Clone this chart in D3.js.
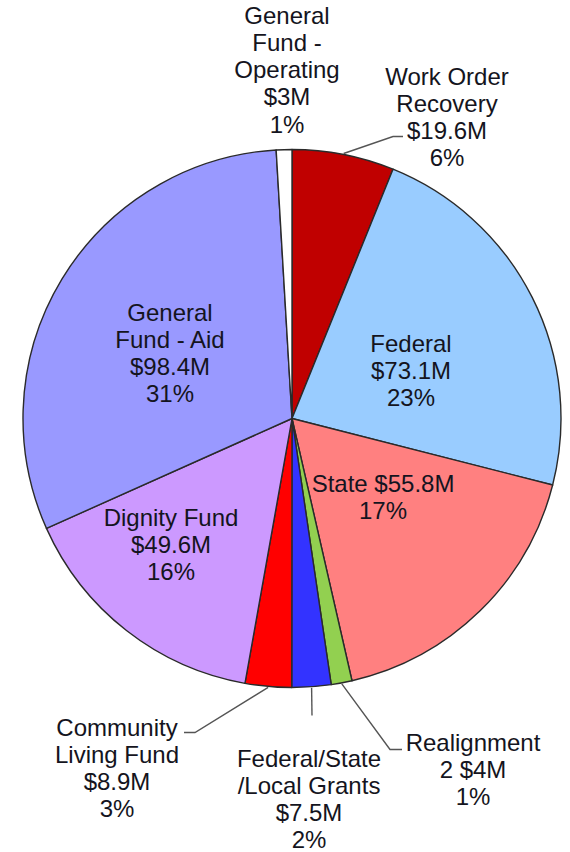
<!DOCTYPE html>
<html>
<head>
<meta charset="utf-8">
<script src="https://cdn.jsdelivr.net/npm/d3@7"></script>
<style>
  html, body { margin: 0; padding: 0; background: #fff; }
  svg { display: block; }
  text { font-family: "Liberation Sans", Arial, sans-serif; font-size: 24px; fill: #141420; }
</style>
</head>
<body>
<svg id="chart" width="570" height="852"></svg>
<script>
// Funding sources, clockwise from 12 o'clock ($ millions)
const categories = [
  "Work Order\nRecovery",
  "Federal",
  "State",
  "Realignment\n2",
  "Federal/State\n/Local Grants",
  "Community\nLiving Fund",
  "Dignity Fund",
  "General\nFund - Aid",
  "General\nFund -\nOperating"
];
const values = [19.6, 73.1, 55.8, 4, 7.5, 8.9, 49.6, 98.4, 3];
const colors = ["#C00000", "#99CCFF", "#FF8080", "#92D050", "#3333FF", "#FF0000", "#CC99FF", "#9999FF", "#FFFFFF"];

// Label placement (centre of first line, relative to pie centre) and
// whether the amount shares the last name line
const labelLayout = [
  { x: 155, y: -342.5, inline: false, leader: [[101, -282], [111, -282]] },
  { x: 119, y: -75.5,  inline: false },
  { x: 91,  y: 64.5,   inline: true },
  { x: 181, y: 323.5,  inline: true,  leader: [[98, 331], [110, 331]] },
  { x: 17,  y: 339.5,  inline: false, leader: [[20, 297]] },
  { x: -175, y: 308.5, inline: false, leader: [[-97, 314], [-108, 314]] },
  { x: -121, y: 98.5,  inline: false },
  { x: -122, y: -106.5, inline: false },
  { x: -5,  y: -403.5, inline: false }
];

const cx = 292, cy = 418.5, R = 269;
const lineH = 27.3;

const svg = d3.select("#chart");
const g = svg.append("g").attr("transform", `translate(${cx},${cy})`);

const total = d3.sum(values);
const rows = values.map((v, i) => ({
  name: categories[i], value: v, color: colors[i],
  pct: Math.round(v / total * 100), layout: labelLayout[i]
}));

const pie = d3.pie().sort(null).value(d => d.value).startAngle(0).endAngle(2 * Math.PI);
const arc = d3.arc().innerRadius(0).outerRadius(R);

const arcs = pie(rows);

g.selectAll("path.slice")
  .data(arcs)
  .join("path")
  .attr("class", "slice")
  .attr("d", arc)
  .attr("fill", d => d.data.color)
  .attr("stroke", "#2a2a2a")
  .attr("stroke-width", 1.4)
  .attr("stroke-linejoin", "round");

// Leader lines for labels placed outside the pie
const line = d3.line();
g.selectAll("path.leader")
  .data(arcs.filter(d => d.data.layout.leader))
  .join("path")
  .attr("class", "leader")
  .attr("fill", "none")
  .attr("stroke", "#555")
  .attr("stroke-width", 1.4)
  .attr("d", d => {
    const mid = (d.startAngle + d.endAngle) / 2;
    const p0 = [Math.sin(mid) * (R + 1), -Math.cos(mid) * (R + 1)];
    return line([p0, ...d.data.layout.leader]);
  });

// Labels: name lines, amount, share
const fmtAmount = v => "$" + d3.format("~")(v) + "M";
const labels = g.selectAll("text.label")
  .data(arcs)
  .join("text")
  .attr("class", "label")
  .attr("text-anchor", "middle")
  .attr("transform", d => `translate(${d.data.layout.x},${d.data.layout.y})`);

labels.each(function(d) {
  const nameLines = d.data.name.split("\n");
  const amount = fmtAmount(d.data.value);
  let lines;
  if (d.data.layout.inline) {
    lines = nameLines.slice(0, -1).concat([nameLines[nameLines.length - 1] + " " + amount]);
  } else {
    lines = nameLines.concat([amount]);
  }
  lines.push(d.data.pct + "%");
  d3.select(this).selectAll("tspan")
    .data(lines)
    .join("tspan")
    .attr("x", 0)
    .attr("y", (t, i) => 8.5 + i * lineH)
    .text(t => t);
});
</script>
</body>
</html>
